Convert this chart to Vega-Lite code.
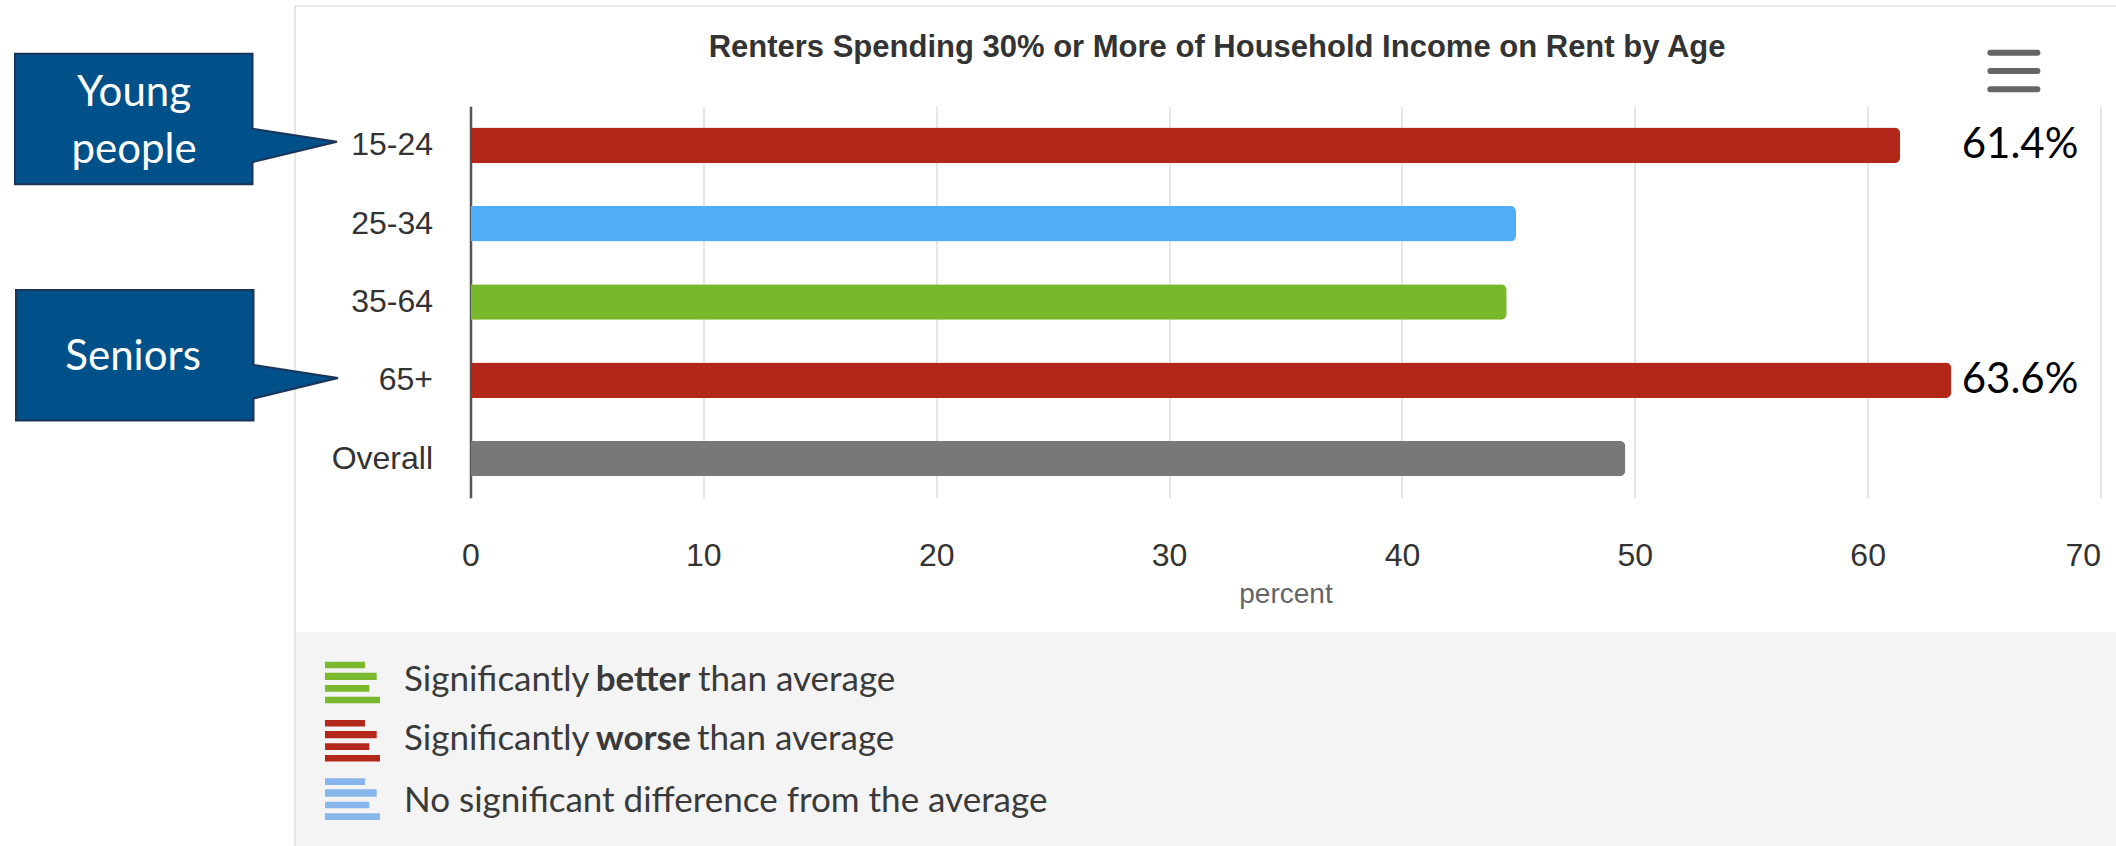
{
  "$schema": "https://vega.github.io/schema/vega-lite/v6.json",
  "width": 1630,
  "height": 391.5,
  "autosize": {"type": "none"},
  "padding": {"left": 470.5, "top": 106.2, "right": 15.5, "bottom": 348.3},
  "background": "white",
  "config": {
    "view": {"stroke": null},
    "axisX": {"domain": false, "ticks": false, "tickSize": 0, "grid": true, "gridColor": "#e6e6e6", "gridWidth": 2, "labelFont": "Liberation Sans", "labelFontSize": 32, "labelColor": "#333333", "labelPadding": 43, "labelFlush": false, "titleFont": "Liberation Sans", "titleFontSize": 28, "titleFontWeight": "normal", "titleColor": "#666666", "titlePadding": 9},
    "axisY": {"domain": true, "domainColor": "#555555", "domainWidth": 2.5, "ticks": false, "tickSize": 0, "grid": false, "labelFont": "Liberation Sans", "labelFontSize": 32, "labelColor": "#333333", "labelPadding": 38}
  },
  "datasets": {
    "ages": [
      {"age": "15-24", "percent": 61.4, "significance": "worse", "label": "61.4%"},
      {"age": "25-34", "percent": 44.9, "significance": "none", "label": ""},
      {"age": "35-64", "percent": 44.5, "significance": "better", "label": ""},
      {"age": "65+", "percent": 63.6, "significance": "worse", "label": "63.6%"},
      {"age": "Overall", "percent": 49.6, "significance": "overall", "label": ""}
    ]
  },
  "layer": [
    {
      "data": {"values": [{}]},
      "layer": [
        {"mark": {"type": "rect", "color": "#f4f4f4"}, "encoding": {"x": {"datum": -7.49, "type": "quantitative", "scale": {"domain": [0, 70], "nice": false, "zero": false}}, "x2": {"datum": 71}, "y": {"datum": 7.215, "type": "quantitative", "scale": {"domain": [0.5, 5.5], "reverse": true, "nice": false, "zero": false}, "axis": null}, "y2": {"datum": 10.3}}},
        {"mark": {"type": "rule", "color": "#e6e6e6", "strokeWidth": 2}, "encoding": {"x": {"datum": -7.537, "type": "quantitative", "scale": {"domain": [0, 70], "nice": false, "zero": false}}, "x2": {"datum": 71}, "y": {"datum": -0.78, "type": "quantitative", "scale": {"domain": [0.5, 5.5], "reverse": true, "nice": false, "zero": false}, "axis": null}}},
        {"mark": {"type": "rule", "color": "#e6e6e6", "strokeWidth": 2}, "encoding": {"x": {"datum": -7.537, "type": "quantitative", "scale": {"domain": [0, 70], "nice": false, "zero": false}}, "y": {"datum": -0.79, "type": "quantitative", "scale": {"domain": [0.5, 5.5], "reverse": true, "nice": false, "zero": false}, "axis": null}, "y2": {"datum": 10.3}}},
        {"mark": {"type": "text", "text": "Renters Spending 30% or More of Household Income on Rent by Age", "font": "Liberation Sans", "fontWeight": "bold", "fontSize": 31, "color": "#333333", "align": "center", "baseline": "alphabetic"}, "encoding": {"x": {"datum": 32.06, "type": "quantitative", "scale": {"domain": [0, 70], "nice": false, "zero": false}}, "y": {"datum": -0.132, "type": "quantitative", "scale": {"domain": [0.5, 5.5], "reverse": true, "nice": false, "zero": false}, "axis": null}}},
        {"mark": {"type": "rule", "color": "#666666", "strokeWidth": 6, "strokeCap": "round"}, "encoding": {"x": {"datum": 65.27, "type": "quantitative", "scale": {"domain": [0, 70], "nice": false, "zero": false}}, "x2": {"datum": 67.29}, "y": {"datum": -0.183, "type": "quantitative", "scale": {"domain": [0.5, 5.5], "reverse": true, "nice": false, "zero": false}, "axis": null}}},
        {"mark": {"type": "rule", "color": "#666666", "strokeWidth": 6, "strokeCap": "round"}, "encoding": {"x": {"datum": 65.27, "type": "quantitative", "scale": {"domain": [0, 70], "nice": false, "zero": false}}, "x2": {"datum": 67.29}, "y": {"datum": 0.05, "type": "quantitative", "scale": {"domain": [0.5, 5.5], "reverse": true, "nice": false, "zero": false}, "axis": null}}},
        {"mark": {"type": "rule", "color": "#666666", "strokeWidth": 6, "strokeCap": "round"}, "encoding": {"x": {"datum": 65.27, "type": "quantitative", "scale": {"domain": [0, 70], "nice": false, "zero": false}}, "x2": {"datum": 67.29}, "y": {"datum": 0.284, "type": "quantitative", "scale": {"domain": [0.5, 5.5], "reverse": true, "nice": false, "zero": false}, "axis": null}}},
        {"mark": {"type": "point", "shape": "M-32.2,-8.8 L-8.45,-8.8 L-8.45,-1.3 L0,0 L-8.45,2.05 L-8.45,4.25 L-32.2,4.25 Z", "size": 400, "filled": true, "fill": "#00508A", "stroke": "#1C3458", "strokeWidth": 2, "opacity": 1}, "encoding": {"x": {"datum": -5.733, "type": "quantitative", "scale": {"domain": [0, 70], "nice": false, "zero": false}}, "y": {"datum": 0.953, "type": "quantitative", "scale": {"domain": [0.5, 5.5], "reverse": true, "nice": false, "zero": false}, "axis": null}}},
        {"mark": {"type": "point", "shape": "M-32.2,-8.8 L-8.45,-8.8 L-8.45,-1.3 L0,0 L-8.45,2.05 L-8.45,4.25 L-32.2,4.25 Z", "size": 400, "filled": true, "fill": "#00508A", "stroke": "#1C3458", "strokeWidth": 2, "opacity": 1}, "encoding": {"x": {"datum": -5.69, "type": "quantitative", "scale": {"domain": [0, 70], "nice": false, "zero": false}}, "y": {"datum": 3.971, "type": "quantitative", "scale": {"domain": [0.5, 5.5], "reverse": true, "nice": false, "zero": false}, "axis": null}}},
        {"mark": {"type": "text", "text": "Young", "font": "Lato", "fontSize": 42, "color": "#ffffff", "align": "center", "baseline": "alphabetic"}, "encoding": {"x": {"datum": -14.45, "type": "quantitative", "scale": {"domain": [0, 70], "nice": false, "zero": false}}, "y": {"datum": 0.4987, "type": "quantitative", "scale": {"domain": [0.5, 5.5], "reverse": true, "nice": false, "zero": false}, "axis": null}}},
        {"mark": {"type": "text", "text": "people", "font": "Lato", "fontSize": 42, "color": "#ffffff", "align": "center", "baseline": "alphabetic"}, "encoding": {"x": {"datum": -14.45, "type": "quantitative", "scale": {"domain": [0, 70], "nice": false, "zero": false}}, "y": {"datum": 1.2254, "type": "quantitative", "scale": {"domain": [0.5, 5.5], "reverse": true, "nice": false, "zero": false}, "axis": null}}},
        {"mark": {"type": "text", "text": "Seniors", "font": "Lato", "fontSize": 42, "color": "#ffffff", "align": "center", "baseline": "alphabetic"}, "encoding": {"x": {"datum": -14.49, "type": "quantitative", "scale": {"domain": [0, 70], "nice": false, "zero": false}}, "y": {"datum": 3.869, "type": "quantitative", "scale": {"domain": [0.5, 5.5], "reverse": true, "nice": false, "zero": false}, "axis": null}}},
        {"mark": {"type": "point", "shape": "M0,0 L4,0 L4,0.66 L0,0.66 Z M0,1.1 L5.17,1.1 L5.17,1.83 L0,1.83 Z M0,2.33 L4.43,2.33 L4.43,3 L0,3 Z M0,3.5 L5.5,3.5 L5.5,4.16 L0,4.16 Z", "size": 400, "filled": true, "fill": "#7AB82E", "strokeWidth": 0, "opacity": 1}, "encoding": {"x": {"datum": -6.249, "type": "quantitative", "scale": {"domain": [0, 70], "nice": false, "zero": false}}, "y": {"datum": 7.594, "type": "quantitative", "scale": {"domain": [0.5, 5.5], "reverse": true, "nice": false, "zero": false}, "axis": null}}},
        {"mark": {"type": "point", "shape": "M0,0 L4,0 L4,0.66 L0,0.66 Z M0,1.1 L5.17,1.1 L5.17,1.83 L0,1.83 Z M0,2.33 L4.43,2.33 L4.43,3 L0,3 Z M0,3.5 L5.5,3.5 L5.5,4.16 L0,4.16 Z", "size": 400, "filled": true, "fill": "#B4281C", "strokeWidth": 0, "opacity": 1}, "encoding": {"x": {"datum": -6.249, "type": "quantitative", "scale": {"domain": [0, 70], "nice": false, "zero": false}}, "y": {"datum": 8.339, "type": "quantitative", "scale": {"domain": [0.5, 5.5], "reverse": true, "nice": false, "zero": false}, "axis": null}}},
        {"mark": {"type": "point", "shape": "M0,0 L4,0 L4,0.66 L0,0.66 Z M0,1.1 L5.17,1.1 L5.17,1.83 L0,1.83 Z M0,2.33 L4.43,2.33 L4.43,3 L0,3 Z M0,3.5 L5.5,3.5 L5.5,4.16 L0,4.16 Z", "size": 400, "filled": true, "fill": "#86B6EA", "strokeWidth": 0, "opacity": 1}, "encoding": {"x": {"datum": -6.249, "type": "quantitative", "scale": {"domain": [0, 70], "nice": false, "zero": false}}, "y": {"datum": 9.084, "type": "quantitative", "scale": {"domain": [0.5, 5.5], "reverse": true, "nice": false, "zero": false}, "axis": null}}},
        {"mark": {"type": "text", "text": "Significantly", "font": "Lato", "fontSize": 35, "color": "#3a3a3a", "align": "left", "baseline": "alphabetic"}, "encoding": {"x": {"datum": -2.856, "type": "quantitative", "scale": {"domain": [0, 70], "nice": false, "zero": false}}, "y": {"datum": 7.965, "type": "quantitative", "scale": {"domain": [0.5, 5.5], "reverse": true, "nice": false, "zero": false}, "axis": null}}},
        {"mark": {"type": "text", "text": "better", "font": "Lato", "fontSize": 35, "fontWeight": "bold", "color": "#3a3a3a", "align": "left", "baseline": "alphabetic"}, "encoding": {"x": {"datum": 5.377, "type": "quantitative", "scale": {"domain": [0, 70], "nice": false, "zero": false}}, "y": {"datum": 7.965, "type": "quantitative", "scale": {"domain": [0.5, 5.5], "reverse": true, "nice": false, "zero": false}, "axis": null}}},
        {"mark": {"type": "text", "text": "than average", "font": "Lato", "fontSize": 35, "color": "#3a3a3a", "align": "left", "baseline": "alphabetic"}, "encoding": {"x": {"datum": 9.77, "type": "quantitative", "scale": {"domain": [0, 70], "nice": false, "zero": false}}, "y": {"datum": 7.965, "type": "quantitative", "scale": {"domain": [0.5, 5.5], "reverse": true, "nice": false, "zero": false}, "axis": null}}},
        {"mark": {"type": "text", "text": "Significantly", "font": "Lato", "fontSize": 35, "color": "#3a3a3a", "align": "left", "baseline": "alphabetic"}, "encoding": {"x": {"datum": -2.856, "type": "quantitative", "scale": {"domain": [0, 70], "nice": false, "zero": false}}, "y": {"datum": 8.722, "type": "quantitative", "scale": {"domain": [0.5, 5.5], "reverse": true, "nice": false, "zero": false}, "axis": null}}},
        {"mark": {"type": "text", "text": "worse", "font": "Lato", "fontSize": 35, "fontWeight": "bold", "color": "#3a3a3a", "align": "left", "baseline": "alphabetic"}, "encoding": {"x": {"datum": 5.377, "type": "quantitative", "scale": {"domain": [0, 70], "nice": false, "zero": false}}, "y": {"datum": 8.722, "type": "quantitative", "scale": {"domain": [0.5, 5.5], "reverse": true, "nice": false, "zero": false}, "axis": null}}},
        {"mark": {"type": "text", "text": "than average", "font": "Lato", "fontSize": 35, "color": "#3a3a3a", "align": "left", "baseline": "alphabetic"}, "encoding": {"x": {"datum": 9.727, "type": "quantitative", "scale": {"domain": [0, 70], "nice": false, "zero": false}}, "y": {"datum": 8.722, "type": "quantitative", "scale": {"domain": [0.5, 5.5], "reverse": true, "nice": false, "zero": false}, "axis": null}}},
        {"mark": {"type": "text", "text": "No significant difference from the average", "font": "Lato", "fontSize": 35, "color": "#3a3a3a", "align": "left", "baseline": "alphabetic"}, "encoding": {"x": {"datum": -2.856, "type": "quantitative", "scale": {"domain": [0, 70], "nice": false, "zero": false}}, "y": {"datum": 9.51, "type": "quantitative", "scale": {"domain": [0.5, 5.5], "reverse": true, "nice": false, "zero": false}, "axis": null}}}
      ]
    },
    {
      "data": {"name": "ages"},
      "layer": [
        {
          "mark": {"type": "bar", "cornerRadiusEnd": 6},
          "encoding": {
            "y": {"field": "age", "type": "nominal", "sort": null, "scale": {"domain": ["15-24", "25-34", "35-64", "65+", "Overall"], "paddingInner": 0.545, "paddingOuter": 0.2725}, "axis": {"title": null}},
            "x": {"field": "percent", "type": "quantitative", "scale": {"domain": [0, 70], "nice": false, "zero": false}, "axis": {"title": "percent", "values": [0, 10, 20, 30, 40, 50, 60, 70], "labelAlign": {"condition": {"test": "datum.value == 70", "value": "right"}, "value": "center"}}},
            "color": {"field": "significance", "type": "nominal", "scale": {"domain": ["worse", "none", "better", "overall"], "range": ["#B3261A", "#51ADF8", "#78B82B", "#787878"]}, "legend": null}
          }
        },
        {
          "transform": [{"filter": "datum.label != ''"}],
          "mark": {"type": "text", "align": "left", "baseline": "middle", "font": "Lato", "fontSize": 42, "color": "#000000"},
          "encoding": {
            "y": {"field": "age", "type": "nominal", "sort": null, "scale": {"domain": ["15-24", "25-34", "35-64", "65+", "Overall"]}},
            "x": {"datum": 64.04, "type": "quantitative", "scale": {"domain": [0, 70], "nice": false, "zero": false}},
            "text": {"field": "label"}
          }
        }
      ]
    }
  ],
  "resolve": {"scale": {"y": "independent"}}
}
